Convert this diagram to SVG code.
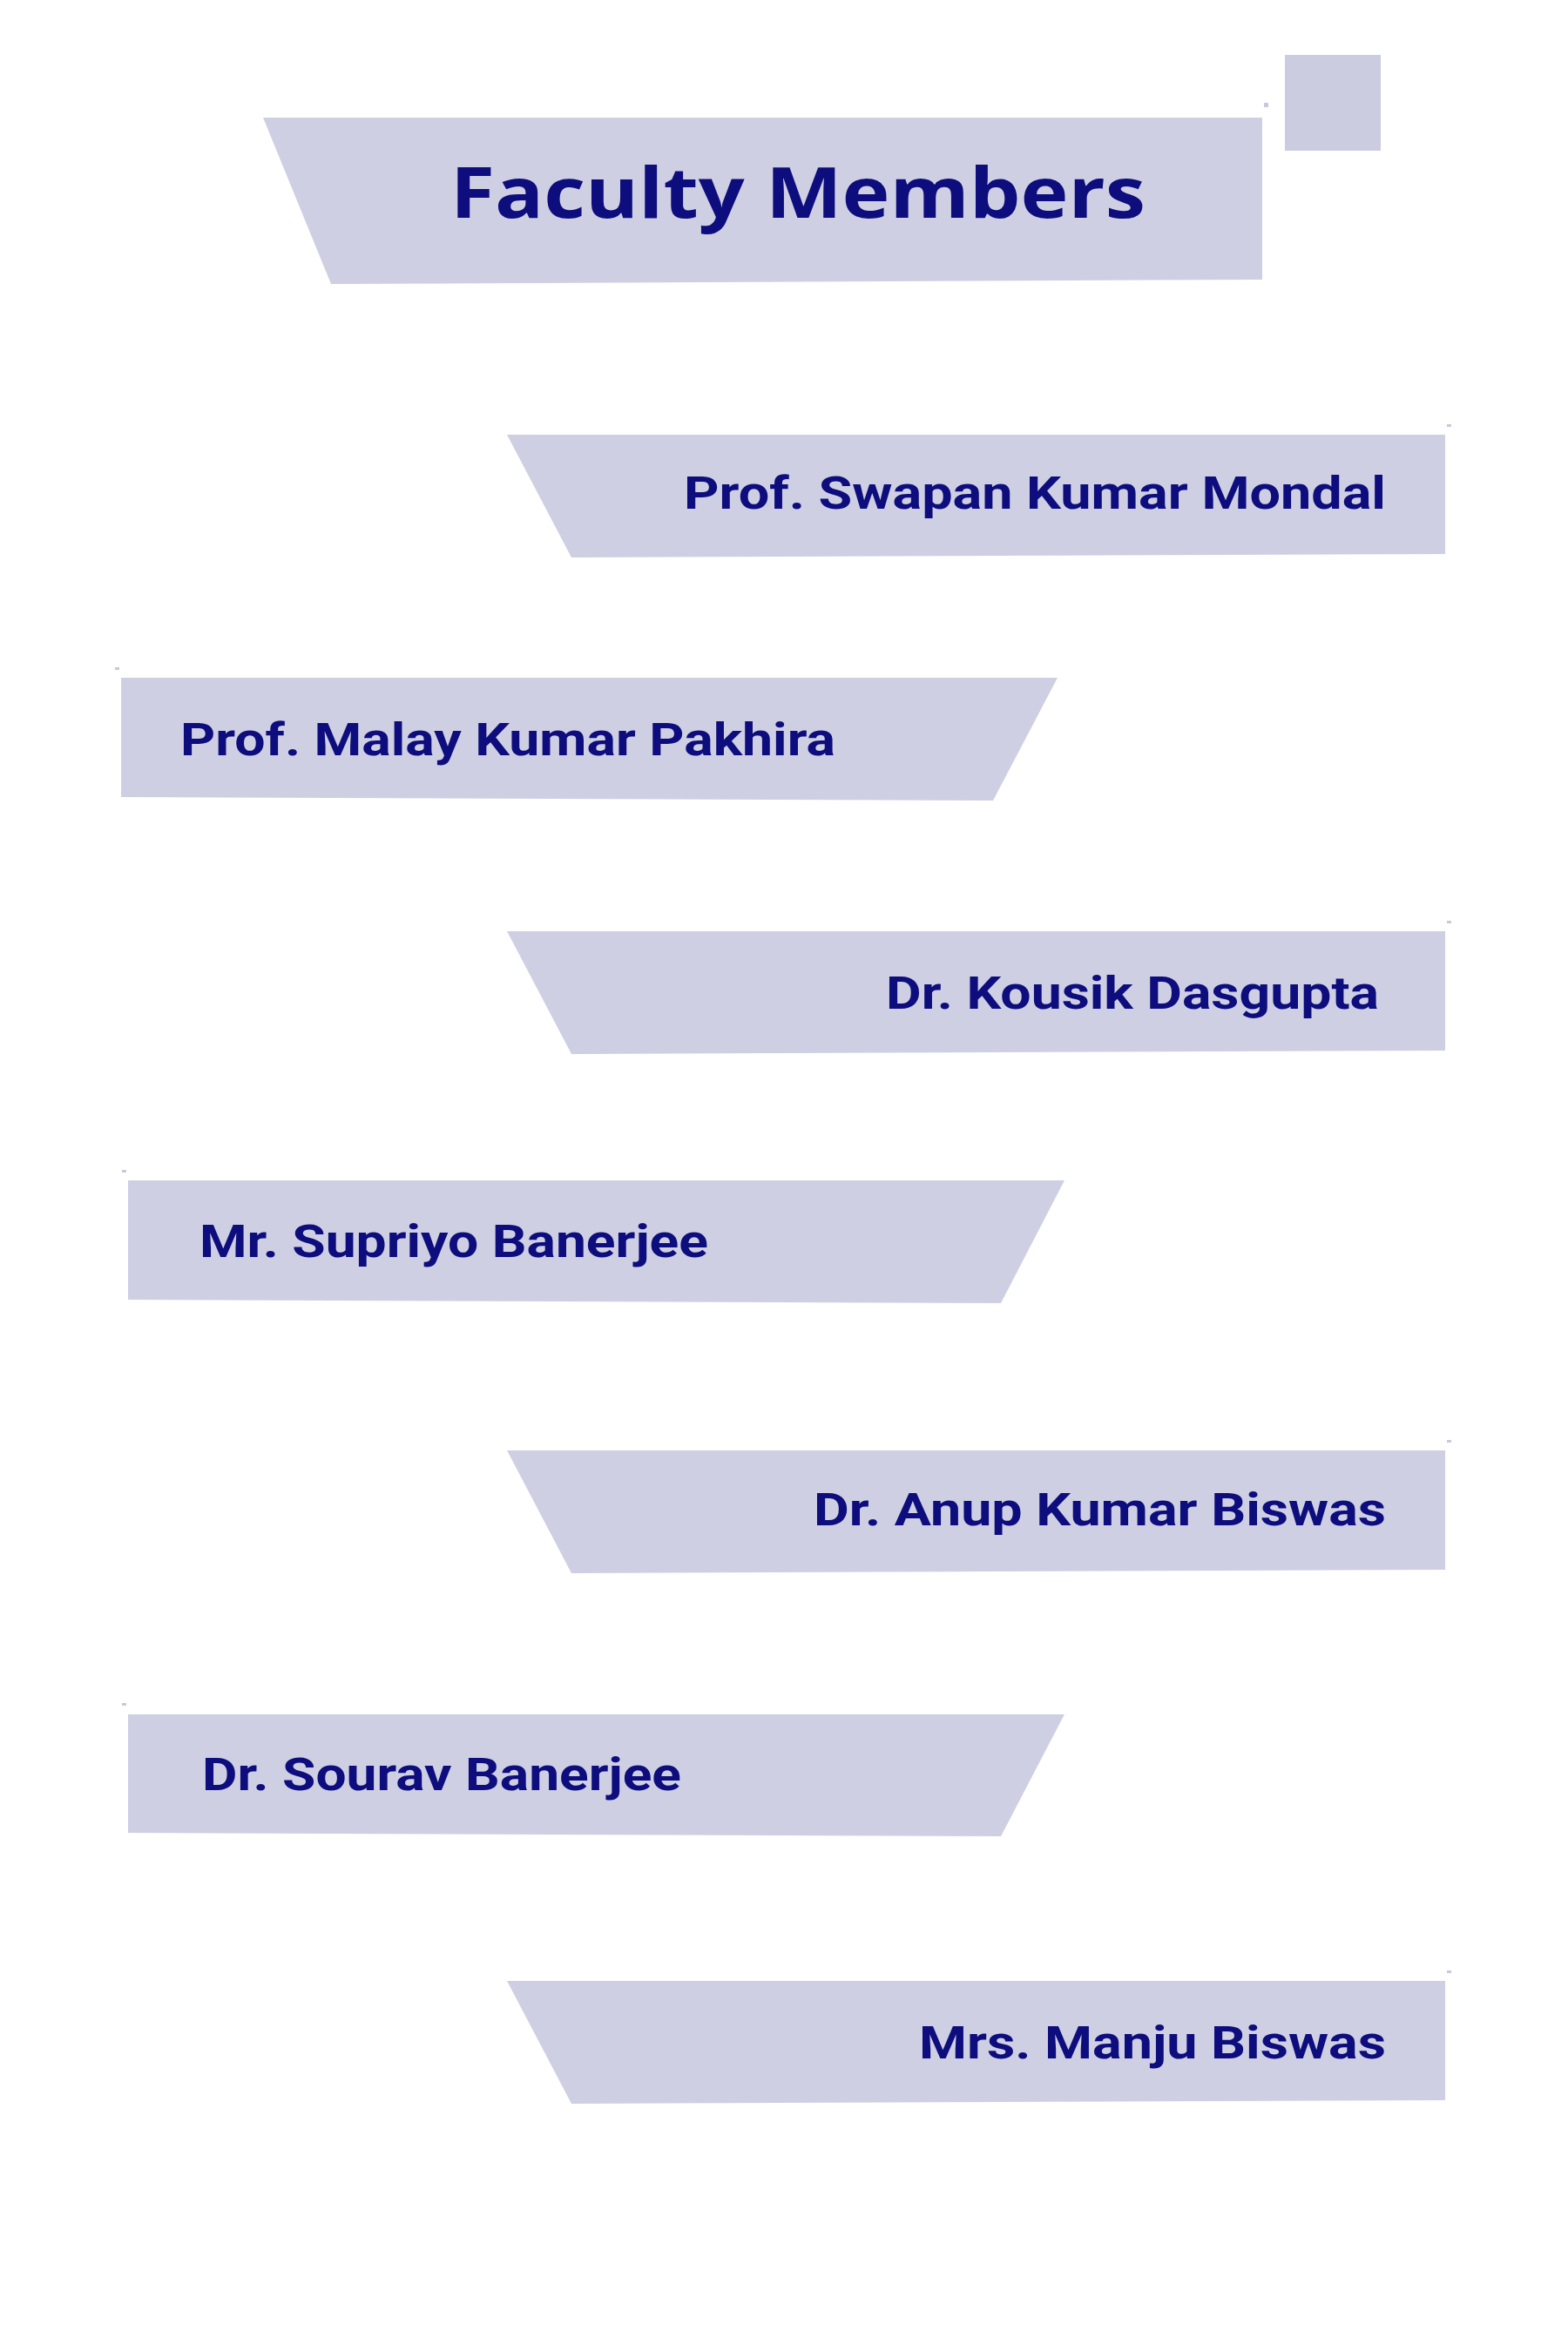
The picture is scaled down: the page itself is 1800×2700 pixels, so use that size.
<svg xmlns="http://www.w3.org/2000/svg" width="1800" height="2700" viewBox="0 0 1800 2700">
<style>
.box{fill:#cfcfe4}
.sq{fill:#cbcce0}
.mark{fill:#c8c8de}
.title{font-family:"Open Sans","Noto Sans","DejaVu Sans",sans-serif;font-weight:700;font-size:80px;fill:#0d0d7d}
.name{font-family:Roboto,"Liberation Sans",sans-serif;font-weight:700;font-size:51px;fill:#0d0d7d}
</style>
<rect width="1800" height="2700" fill="#ffffff"/>
<g id="connectors"></g>
<g id="title">
<rect class="sq" x="1475" y="63" width="110" height="110"/>
<rect class="mark" x="1451" y="118" width="5" height="5"/>
<polygon class="box" points="302,135 1449,135 1449,321 380,326"/>
<text class="title" x="517" y="250" textLength="798" lengthAdjust="spacingAndGlyphs">Faculty Members</text>
</g>
<g id="node1">
<rect class="mark" x="1661" y="487" width="5" height="3"/>
<polygon class="box" points="582,499 1659,499 1659,636 656,640"/>
<text class="name" x="785" y="584" textLength="806" lengthAdjust="spacingAndGlyphs">Prof. Swapan Kumar Mondal</text>
</g>
<g id="node2">
<rect class="mark" x="132" y="766" width="5" height="3"/>
<polygon class="box" points="139,778 1214,778 1140,919 139,915"/>
<text class="name" x="207" y="867" textLength="752" lengthAdjust="spacingAndGlyphs">Prof. Malay Kumar Pakhira</text>
</g>
<g id="node3">
<rect class="mark" x="1661" y="1057" width="5" height="3"/>
<polygon class="box" points="582,1069 1659,1069 1659,1206 656,1210"/>
<text class="name" x="1017" y="1158" textLength="566" lengthAdjust="spacingAndGlyphs">Dr. Kousik Dasgupta</text>
</g>
<g id="node4">
<rect class="mark" x="140" y="1343" width="5" height="3"/>
<polygon class="box" points="147,1355 1222,1355 1149,1496 147,1492"/>
<text class="name" x="229" y="1443" textLength="584" lengthAdjust="spacingAndGlyphs">Mr. Supriyo Banerjee</text>
</g>
<g id="node5">
<rect class="mark" x="1661" y="1653" width="5" height="3"/>
<polygon class="box" points="582,1665 1659,1665 1659,1802 656,1806"/>
<text class="name" x="934" y="1751" textLength="657" lengthAdjust="spacingAndGlyphs">Dr. Anup Kumar Biswas</text>
</g>
<g id="node6">
<rect class="mark" x="140" y="1955" width="5" height="3"/>
<polygon class="box" points="147,1968 1222,1968 1149,2108 147,2104"/>
<text class="name" x="232" y="2055" textLength="550" lengthAdjust="spacingAndGlyphs">Dr. Sourav Banerjee</text>
</g>
<g id="node7">
<rect class="mark" x="1661" y="2262" width="5" height="3"/>
<polygon class="box" points="582,2274 1659,2274 1659,2411 656,2415"/>
<text class="name" x="1055" y="2363" textLength="536" lengthAdjust="spacingAndGlyphs">Mrs. Manju Biswas</text>
</g>
</svg>
